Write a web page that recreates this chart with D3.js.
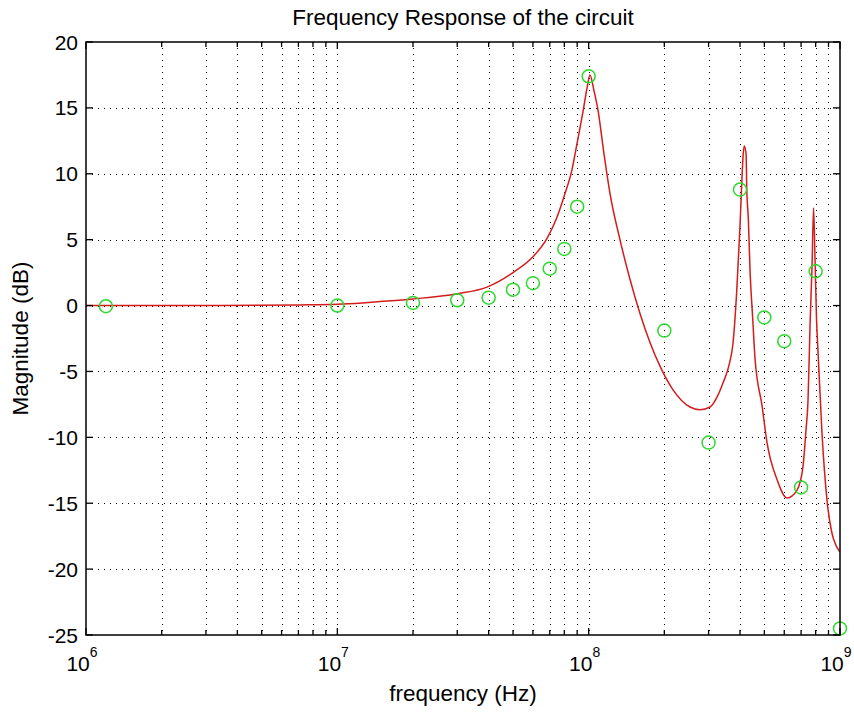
<!DOCTYPE html>
<html>
<head>
<meta charset="utf-8">
<script src="https://cdn.jsdelivr.net/npm/d3@7"></script>
<style>
  html, body { margin: 0; padding: 0; background: #fff; }
  svg { display: block; }
  text { font-family: "Liberation Sans", Arial, sans-serif; fill: #000; }
</style>
</head>
<body>
<svg id="chart" width="854" height="712"></svg>
<script>
// ---- data ----
const titleText = "Frequency Response of the circuit";
const xLabelText = "frequency (Hz)";
const yLabelText = "Magnitude (dB)";

const xDomain = [1e6, 1e9];
const yDomain = [-25, 20];
const yTicks = [-25, -20, -15, -10, -5, 0, 5, 10, 15, 20];
const xTickExponents = [6, 7, 8, 9];
const xMinorMultipliers = [2, 3, 4, 5, 6, 7, 8, 9];

// simulated response (red line)
const curveFreq = [1e6, 2.84e6, 7.1e6, 1e7, 1.254e7, 1.478e7, 2.0e7, 3.0e7, 3.94e7, 5.0e7,
  6.0e7, 6.83e7, 7.48e7, 8.05e7, 8.58e7, 8.99e7, 9.49e7, 9.85e7, 1.012e8, 1.05e8,
  1.09e8, 1.151e8, 1.216e8, 1.332e8, 1.46e8, 1.6e8, 1.754e8, 1.922e8, 2.166e8, 2.53e8,
  2.773e8, 3.04e8, 3.27e8, 3.42e8, 3.62e8, 3.75e8, 3.88e8, 4.0e8, 4.06e8, 4.12e8,
  4.16e8, 4.23e8, 4.255e8, 4.32e8, 4.385e8, 4.495e8, 4.59e8, 4.895e8, 5.125e8, 5.615e8,
  6.155e8, 6.745e8, 7.125e8, 7.32e8, 7.46e8, 7.6e8, 7.74e8, 7.85e8, 7.955e8, 8.065e8,
  8.175e8, 8.48e8, 8.88e8, 9.295e8, 9.64e8, 1e9];
const curveDb = [0.0, 0.0, 0.05, 0.1, 0.2, 0.3, 0.5, 0.9, 1.4, 2.5,
  3.7, 5.1, 6.7, 8.5, 10.3, 12.3, 14.7, 16.5, 17.5, 16.3,
  14.8, 11.5, 8.5, 5.0, 2.0, -0.6, -2.8, -4.6, -6.4, -7.7,
  -7.9, -7.7, -6.8, -5.9, -4.5, -2.9, 1.0, 6.0, 9.0, 11.5,
  12.1, 11.5, 9.0, 6.5, 2.7, -1.0, -4.0, -7.6, -10.4, -13.2,
  -14.6, -14.0, -12.2, -9.5, -7.2, -1.5, 3.0, 7.4, 3.5, -1.0,
  -3.5, -9.7, -14.8, -17.3, -18.2, -18.7];

// measured points (green circles)
const measFreq = [1.2e6, 1e7, 2e7, 3e7, 4e7, 5e7, 6e7, 7e7, 8e7, 9e7,
  1e8, 2e8, 3e8, 4e8, 5e8, 6e8, 7e8, 8e8, 1e9];
const measDb = [-0.05, 0.0, 0.2, 0.4, 0.6, 1.2, 1.7, 2.8, 4.3, 7.5,
  17.4, -1.9, -10.4, 8.8, -0.9, -2.7, -13.8, 2.6, -24.5];

// ---- layout ----
const plot = { left: 86, right: 840, top: 42, bottom: 635 };
const svg = d3.select("#chart");

const x = d3.scaleLog().domain(xDomain).range([plot.left, plot.right]);
const y = d3.scaleLinear().domain(yDomain).range([plot.bottom, plot.top]);

const majorX = xTickExponents.map(e => Math.pow(10, e));
const minorX = [];
xTickExponents.slice(0, -1).forEach(e => {
  xMinorMultipliers.forEach(m => minorX.push(m * Math.pow(10, e)));
});

// grid
const grid = svg.append("g").attr("stroke", "#000").attr("stroke-width", 1)
  .attr("stroke-dasharray", "1,5").attr("fill", "none");
majorX.concat(minorX).forEach(v => {
  const px = Math.round(x(v)) + 0.5;
  if (px > plot.left + 1 && px < plot.right - 1) {
    grid.append("line").attr("x1", px).attr("x2", px)
      .attr("y1", plot.top).attr("y2", plot.bottom);
  }
});
yTicks.forEach(v => {
  const py = Math.round(y(v)) + 0.5;
  if (py > plot.top + 1 && py < plot.bottom - 1) {
    grid.append("line").attr("x1", plot.left).attr("x2", plot.right)
      .attr("y1", py).attr("y2", py);
  }
});

// curve
const clipId = "plotclip";
svg.append("clipPath").attr("id", clipId).append("rect")
  .attr("x", plot.left).attr("y", plot.top)
  .attr("width", plot.right - plot.left).attr("height", plot.bottom - plot.top);

const curveData = curveFreq.map((f, i) => [f, curveDb[i]]);
const line = d3.line().x(d => x(d[0])).y(d => y(d[1])).curve(d3.curveMonotoneX);
svg.append("path").datum(curveData)
  .attr("d", line).attr("fill", "none")
  .attr("stroke", "#d41c1c").attr("stroke-width", 1.5)
  .attr("stroke-linejoin", "round")
  .attr("clip-path", `url(#${clipId})`);

// measured circles
const measData = measFreq.map((f, i) => [f, measDb[i]]);
svg.append("g").selectAll("circle").data(measData).join("circle")
  .attr("cx", d => x(d[0])).attr("cy", d => y(d[1])).attr("r", 6.5)
  .attr("fill", "none").attr("stroke", "#2ed82e").attr("stroke-width", 1.5);

// axes box
svg.append("rect").attr("x", plot.left).attr("y", plot.top)
  .attr("width", plot.right - plot.left).attr("height", plot.bottom - plot.top)
  .attr("fill", "none").attr("stroke", "#000").attr("stroke-width", 1.5);

// ticks (inward, all four sides)
const tk = svg.append("g").attr("stroke", "#000").attr("stroke-width", 1.3);
const majLen = 7, minLen = 5;
majorX.forEach(v => {
  const px = x(v);
  tk.append("line").attr("x1", px).attr("x2", px).attr("y1", plot.bottom).attr("y2", plot.bottom - majLen);
  tk.append("line").attr("x1", px).attr("x2", px).attr("y1", plot.top).attr("y2", plot.top + majLen);
});
minorX.forEach(v => {
  const px = x(v);
  tk.append("line").attr("x1", px).attr("x2", px).attr("y1", plot.bottom).attr("y2", plot.bottom - minLen);
  tk.append("line").attr("x1", px).attr("x2", px).attr("y1", plot.top).attr("y2", plot.top + minLen);
});
yTicks.forEach(v => {
  const py = y(v);
  tk.append("line").attr("x1", plot.left).attr("x2", plot.left + majLen).attr("y1", py).attr("y2", py);
  tk.append("line").attr("x1", plot.right).attr("x2", plot.right - majLen).attr("y1", py).attr("y2", py);
});

// y tick labels
svg.append("g").selectAll("text").data(yTicks).join("text")
  .attr("x", plot.left - 8).attr("y", d => y(d))
  .attr("dy", "0.36em").attr("text-anchor", "end")
  .attr("font-size", 21).text(d => d);

// x tick labels: 10^n
xTickExponents.forEach(e => {
  const px = x(Math.pow(10, e));
  const t = svg.append("text").attr("x", px - 4).attr("y", plot.bottom + 36)
    .attr("text-anchor", "middle").attr("font-size", 21);
  t.append("tspan").text("10");
  t.append("tspan").attr("dy", -14).attr("font-size", 14).text(String(e));
});

// title and axis labels
svg.append("text").attr("x", (plot.left + plot.right) / 2).attr("y", 25)
  .attr("text-anchor", "middle").attr("font-size", 22.5).text(titleText);
svg.append("text").attr("x", (plot.left + plot.right) / 2).attr("y", 701)
  .attr("text-anchor", "middle").attr("font-size", 22.5).text(xLabelText);
svg.append("text")
  .attr("transform", `translate(28,${(plot.top + plot.bottom) / 2}) rotate(-90)`)
  .attr("text-anchor", "middle").attr("font-size", 22.5).text(yLabelText);
</script>
</body>
</html>
